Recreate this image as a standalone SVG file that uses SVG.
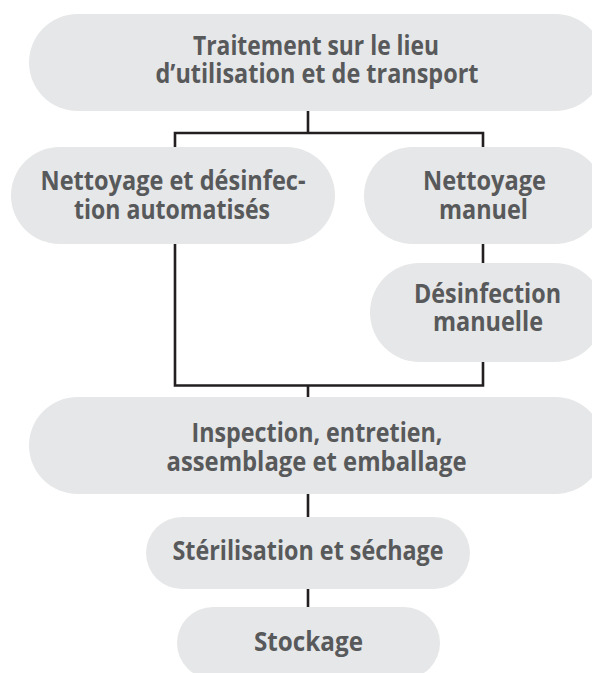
<svg xmlns="http://www.w3.org/2000/svg" width="592" height="673" viewBox="0 0 592 673">
<style>
.node rect{fill:#e6e7e8;}
.node text{font-family:"Open Sans","Liberation Sans",sans-serif;font-weight:700;font-size:26.5px;fill:#58595b;text-anchor:middle;}
.conn{fill:none;stroke:#231f20;stroke-width:2.6;}
</style>
<rect width="592" height="673" fill="#ffffff"/>
<g id="connectors" class="conn">
<path d="M308 111 V133 M175 147 V133 H483 V147"/>
<path d="M483 244 V263"/>
<path d="M175 244 V385.5 H483 V362"/>
<path d="M308 385.5 V397"/>
<path d="M308 494 V517"/>
<path d="M308 589 V607"/>
</g>
<g id="n1" class="node">
<rect x="29" y="14" width="575" height="97" rx="48.5"/>
<text x="316" y="55" textLength="246" lengthAdjust="spacingAndGlyphs">Traitement sur le lieu</text>
<text x="317" y="83" textLength="323" lengthAdjust="spacingAndGlyphs">d’utilisation et de transport</text>
</g>
<g id="n2" class="node">
<rect x="11" y="147" width="324" height="97" rx="48.5"/>
<text x="173" y="190" textLength="265" lengthAdjust="spacingAndGlyphs">Nettoyage et désinfec-</text>
<text x="172" y="219" textLength="196" lengthAdjust="spacingAndGlyphs">tion automatisés</text>
</g>
<g id="n3" class="node">
<rect x="364" y="147" width="240" height="97" rx="48.5"/>
<text x="484.5" y="190" textLength="123" lengthAdjust="spacingAndGlyphs">Nettoyage</text>
<text x="483.5" y="219" textLength="89" lengthAdjust="spacingAndGlyphs">manuel</text>
</g>
<g id="n4" class="node">
<rect x="370" y="263" width="234" height="99" rx="49.5"/>
<text x="487.5" y="303" textLength="147" lengthAdjust="spacingAndGlyphs">Désinfection</text>
<text x="488" y="331" textLength="110" lengthAdjust="spacingAndGlyphs">manuelle</text>
</g>
<g id="n5" class="node">
<rect x="29" y="397" width="575" height="97" rx="48.5"/>
<text x="317" y="442" textLength="251" lengthAdjust="spacingAndGlyphs">Inspection, entretien,</text>
<text x="316.5" y="471" textLength="300" lengthAdjust="spacingAndGlyphs">assemblage et emballage</text>
</g>
<g id="n6" class="node">
<rect x="146" y="517" width="324" height="72" rx="36"/>
<text x="308" y="560" textLength="271" lengthAdjust="spacingAndGlyphs">Stérilisation et séchage</text>
</g>
<g id="n7" class="node">
<rect x="177" y="607" width="263" height="72" rx="36"/>
<text x="308.5" y="651" textLength="109" lengthAdjust="spacingAndGlyphs">Stockage</text>
</g>
</svg>
